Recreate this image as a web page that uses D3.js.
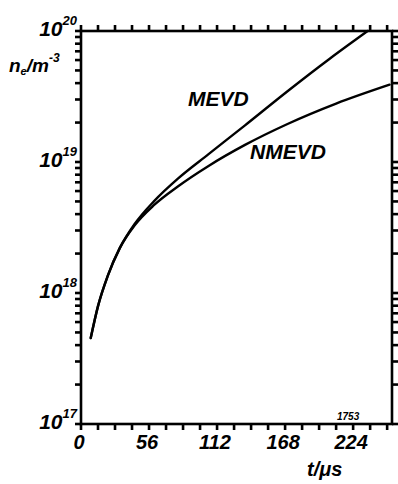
<!DOCTYPE html>
<html>
<head>
<meta charset="utf-8">
<script src="https://cdn.jsdelivr.net/npm/d3@7"></script>
<style>
  html, body { margin: 0; padding: 0; background: #fff; }
  svg { display: block; }
  text.lab { font-family: "Liberation Sans", Arial, sans-serif; font-weight: bold; font-style: italic; fill: #000; }
</style>
</head>
<body>
<svg id="chart" width="398" height="484"></svg>
<script>
// Electron density growth over time, log scale
const tMEVD = [8, 14, 22, 32, 44, 60, 80, 105, 135, 170, 205, 236];
const nMEVD = [4.53e17, 7.94e17, 1.35e18, 2.21e18, 3.35e18, 5.01e18, 7.5e18, 1.148e19, 1.905e19, 3.47e19, 6.17e19, 1.0e20];

const tNMEVD = [8, 14, 22, 32, 44, 60, 80, 105, 135, 170, 210, 254];
const nNMEVD = [4.53e17, 7.94e17, 1.35e18, 2.21e18, 3.27e18, 4.68e18, 6.53e18, 9.33e18, 1.35e19, 1.95e19, 2.79e19, 3.89e19];

const xTickValues = [0, 56, 112, 168, 224];
const yDecades = [17, 18, 19, 20];

const svg = d3.select("#chart");
const plotL = 81, plotR = 392, plotT = 31, plotB = 424;

const x = d3.scaleLinear().domain([0, 256]).range([plotL, plotR]);
const y = d3.scaleLog().domain([1e17, 1e20]).range([plotB, plotT]);

// Frame
svg.append("rect")
  .attr("x", plotL).attr("y", plotT)
  .attr("width", plotR - plotL).attr("height", plotB - plotT)
  .attr("fill", "none").attr("stroke", "#000").attr("stroke-width", 2.6);

// Small outward ticks on all four sides
const xMinor = d3.range(0, 257, 14);
const yMinor = y.ticks(10);
const tickLen = 6, tickW = 2.6;

const ticks = svg.append("g").attr("fill", "#000");
ticks.selectAll("rect.xb").data(xMinor).join("rect").attr("class", "xb")
  .attr("x", d => x(d) - tickW / 2).attr("y", plotB).attr("width", tickW).attr("height", tickLen);
ticks.selectAll("rect.xt").data(xMinor).join("rect").attr("class", "xt")
  .attr("x", d => x(d) - tickW / 2).attr("y", plotT - tickLen).attr("width", tickW).attr("height", tickLen);
ticks.selectAll("rect.yl").data(yMinor).join("rect").attr("class", "yl")
  .attr("x", plotL - tickLen).attr("y", d => y(d) - tickW / 2).attr("width", tickLen).attr("height", tickW);
ticks.selectAll("rect.yr").data(yMinor).join("rect").attr("class", "yr")
  .attr("x", plotR).attr("y", d => y(d) - tickW / 2).attr("width", tickLen).attr("height", tickW);

// X tick labels
svg.selectAll("text.xl").data(xTickValues).join("text")
  .attr("class", "xl lab")
  .attr("x", d => x(d) - 2)
  .attr("y", plotB + 25)
  .attr("text-anchor", "middle")
  .attr("font-size", 20)
  .text(d => d);

// Y tick labels: 10 with superscript exponent
const yl = svg.selectAll("text.ylab").data(yDecades).join("text")
  .attr("class", "ylab lab")
  .attr("x", 77)
  .attr("y", d => y(Math.pow(10, d)) + 5)
  .attr("text-anchor", "end")
  .attr("font-size", 21);
yl.append("tspan").text("10");
yl.append("tspan").attr("font-size", 13).attr("dy", -11).text(d => d);

// Axis titles
const yt = svg.append("text").attr("class", "lab").attr("x", 9).attr("y", 72).attr("font-size", 19);
yt.append("tspan").text("n");
yt.append("tspan").attr("font-size", 11).attr("dy", 3).text("e");
yt.append("tspan").attr("dy", -3).text("/m");
yt.append("tspan").attr("font-size", 12).attr("dy", -10).text("-3");

svg.append("text").attr("class", "lab").attr("x", 307).attr("y", 476).attr("font-size", 20).text("t/μs");
svg.append("text").attr("class", "lab").attr("x", 337).attr("y", 420).attr("font-size", 10).text("1753");

// Curves
const line = d3.line()
  .x(d => x(d[0]))
  .y(d => y(d[1]))
  .curve(d3.curveMonotoneX);

const series = [
  { t: tMEVD, n: nMEVD },
  { t: tNMEVD, n: nNMEVD }
];
svg.selectAll("path.curve").data(series).join("path")
  .attr("class", "curve")
  .attr("d", s => line(d3.zip(s.t, s.n)))
  .attr("fill", "none")
  .attr("stroke", "#000")
  .attr("stroke-width", 2.4)
  .attr("stroke-linecap", "round");

// Curve labels
svg.append("text").attr("class", "lab").attr("x", 188).attr("y", 106).attr("font-size", 21).text("MEVD");
svg.append("text").attr("class", "lab").attr("x", 250).attr("y", 159).attr("font-size", 21).text("NMEVD");
</script>
</body>
</html>
